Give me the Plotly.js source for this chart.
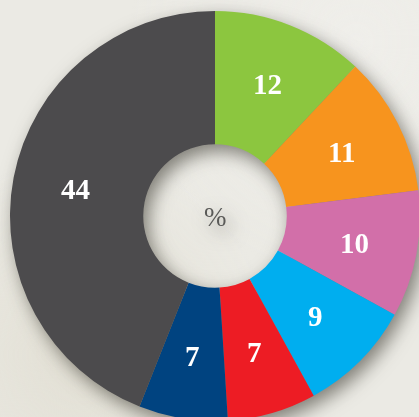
<!DOCTYPE html>
<html>
<head>
<meta charset="utf-8">
<script src="https://cdn.plot.ly/plotly-3.0.1.min.js"></script>
<style>
html,body{margin:0;padding:0;width:419px;height:417px;overflow:hidden;}
body{background:#ebeae4;
 background-image:
  radial-gradient(ellipse at 20% 85%, rgba(225,222,210,0.9) 0%, rgba(235,234,228,0) 40%),
  radial-gradient(ellipse at 85% 10%, rgba(240,239,235,0.9) 0%, rgba(235,234,228,0) 45%);}
#chart{position:absolute;left:0;top:0;width:440px;height:440px;
 filter:drop-shadow(5px 7px 9px rgba(40,38,30,0.55));}
</style>
</head>
<body>
<div id="chart"></div>
<script>
var labels = ["A","B","C","D","E","F","G"];
var values = [12, 11, 10, 9, 7, 7, 44];
var colors = ["#8cc63f","#f7941e","#d26fa9","#00aeef","#ed1c24","#004380","#4c4b4d"];
var centerLabel = "%";

var W = 440, H = 440;
var cx = 215, cy = 216, R = 205, rLabel = 142;

var trace = {
  type: "pie",
  labels: labels,
  values: values,
  sort: false,
  direction: "clockwise",
  rotation: 0,
  hole: 0.35,
  marker: {colors: colors, line: {width: 0}},
  textinfo: "none",
  hoverinfo: "none",
  showlegend: false,
  domain: {x: [(cx - R) / W, (cx + R) / W], y: [(H - cy - R) / H, (H - cy + R) / H]}
};

var font = "Liberation Serif, DejaVu Serif, serif";
var annotations = [{
  text: centerLabel, showarrow: false,
  xref: "paper", yref: "paper",
  x: cx / W, y: 1 - (cy + 1) / H,
  xanchor: "center", yanchor: "middle",
  font: {family: font, size: 27, color: "#5a5a58"}
}];

var total = values.reduce(function (a, b) { return a + b; }, 0);
var cum = 0;
values.forEach(function (v) {
  var mid = (cum + v / 2) / total * 2 * Math.PI;
  cum += v;
  var px = cx + rLabel * Math.sin(mid);
  var py = cy - rLabel * Math.cos(mid);
  annotations.push({
    text: "<b>" + v + "</b>", showarrow: false,
    xref: "paper", yref: "paper",
    x: px / W, y: 1 - py / H,
    xanchor: "center", yanchor: "middle",
    font: {family: font, size: 29, color: "#ffffff"}
  });
});

var layout = {
  width: W, height: H,
  margin: {l: 0, r: 0, t: 0, b: 0},
  paper_bgcolor: "rgba(0,0,0,0)",
  plot_bgcolor: "rgba(0,0,0,0)",
  showlegend: false,
  annotations: annotations
};

Plotly.newPlot("chart", [trace], layout, {staticPlot: true, displayModeBar: false});
</script>
</body>
</html>
